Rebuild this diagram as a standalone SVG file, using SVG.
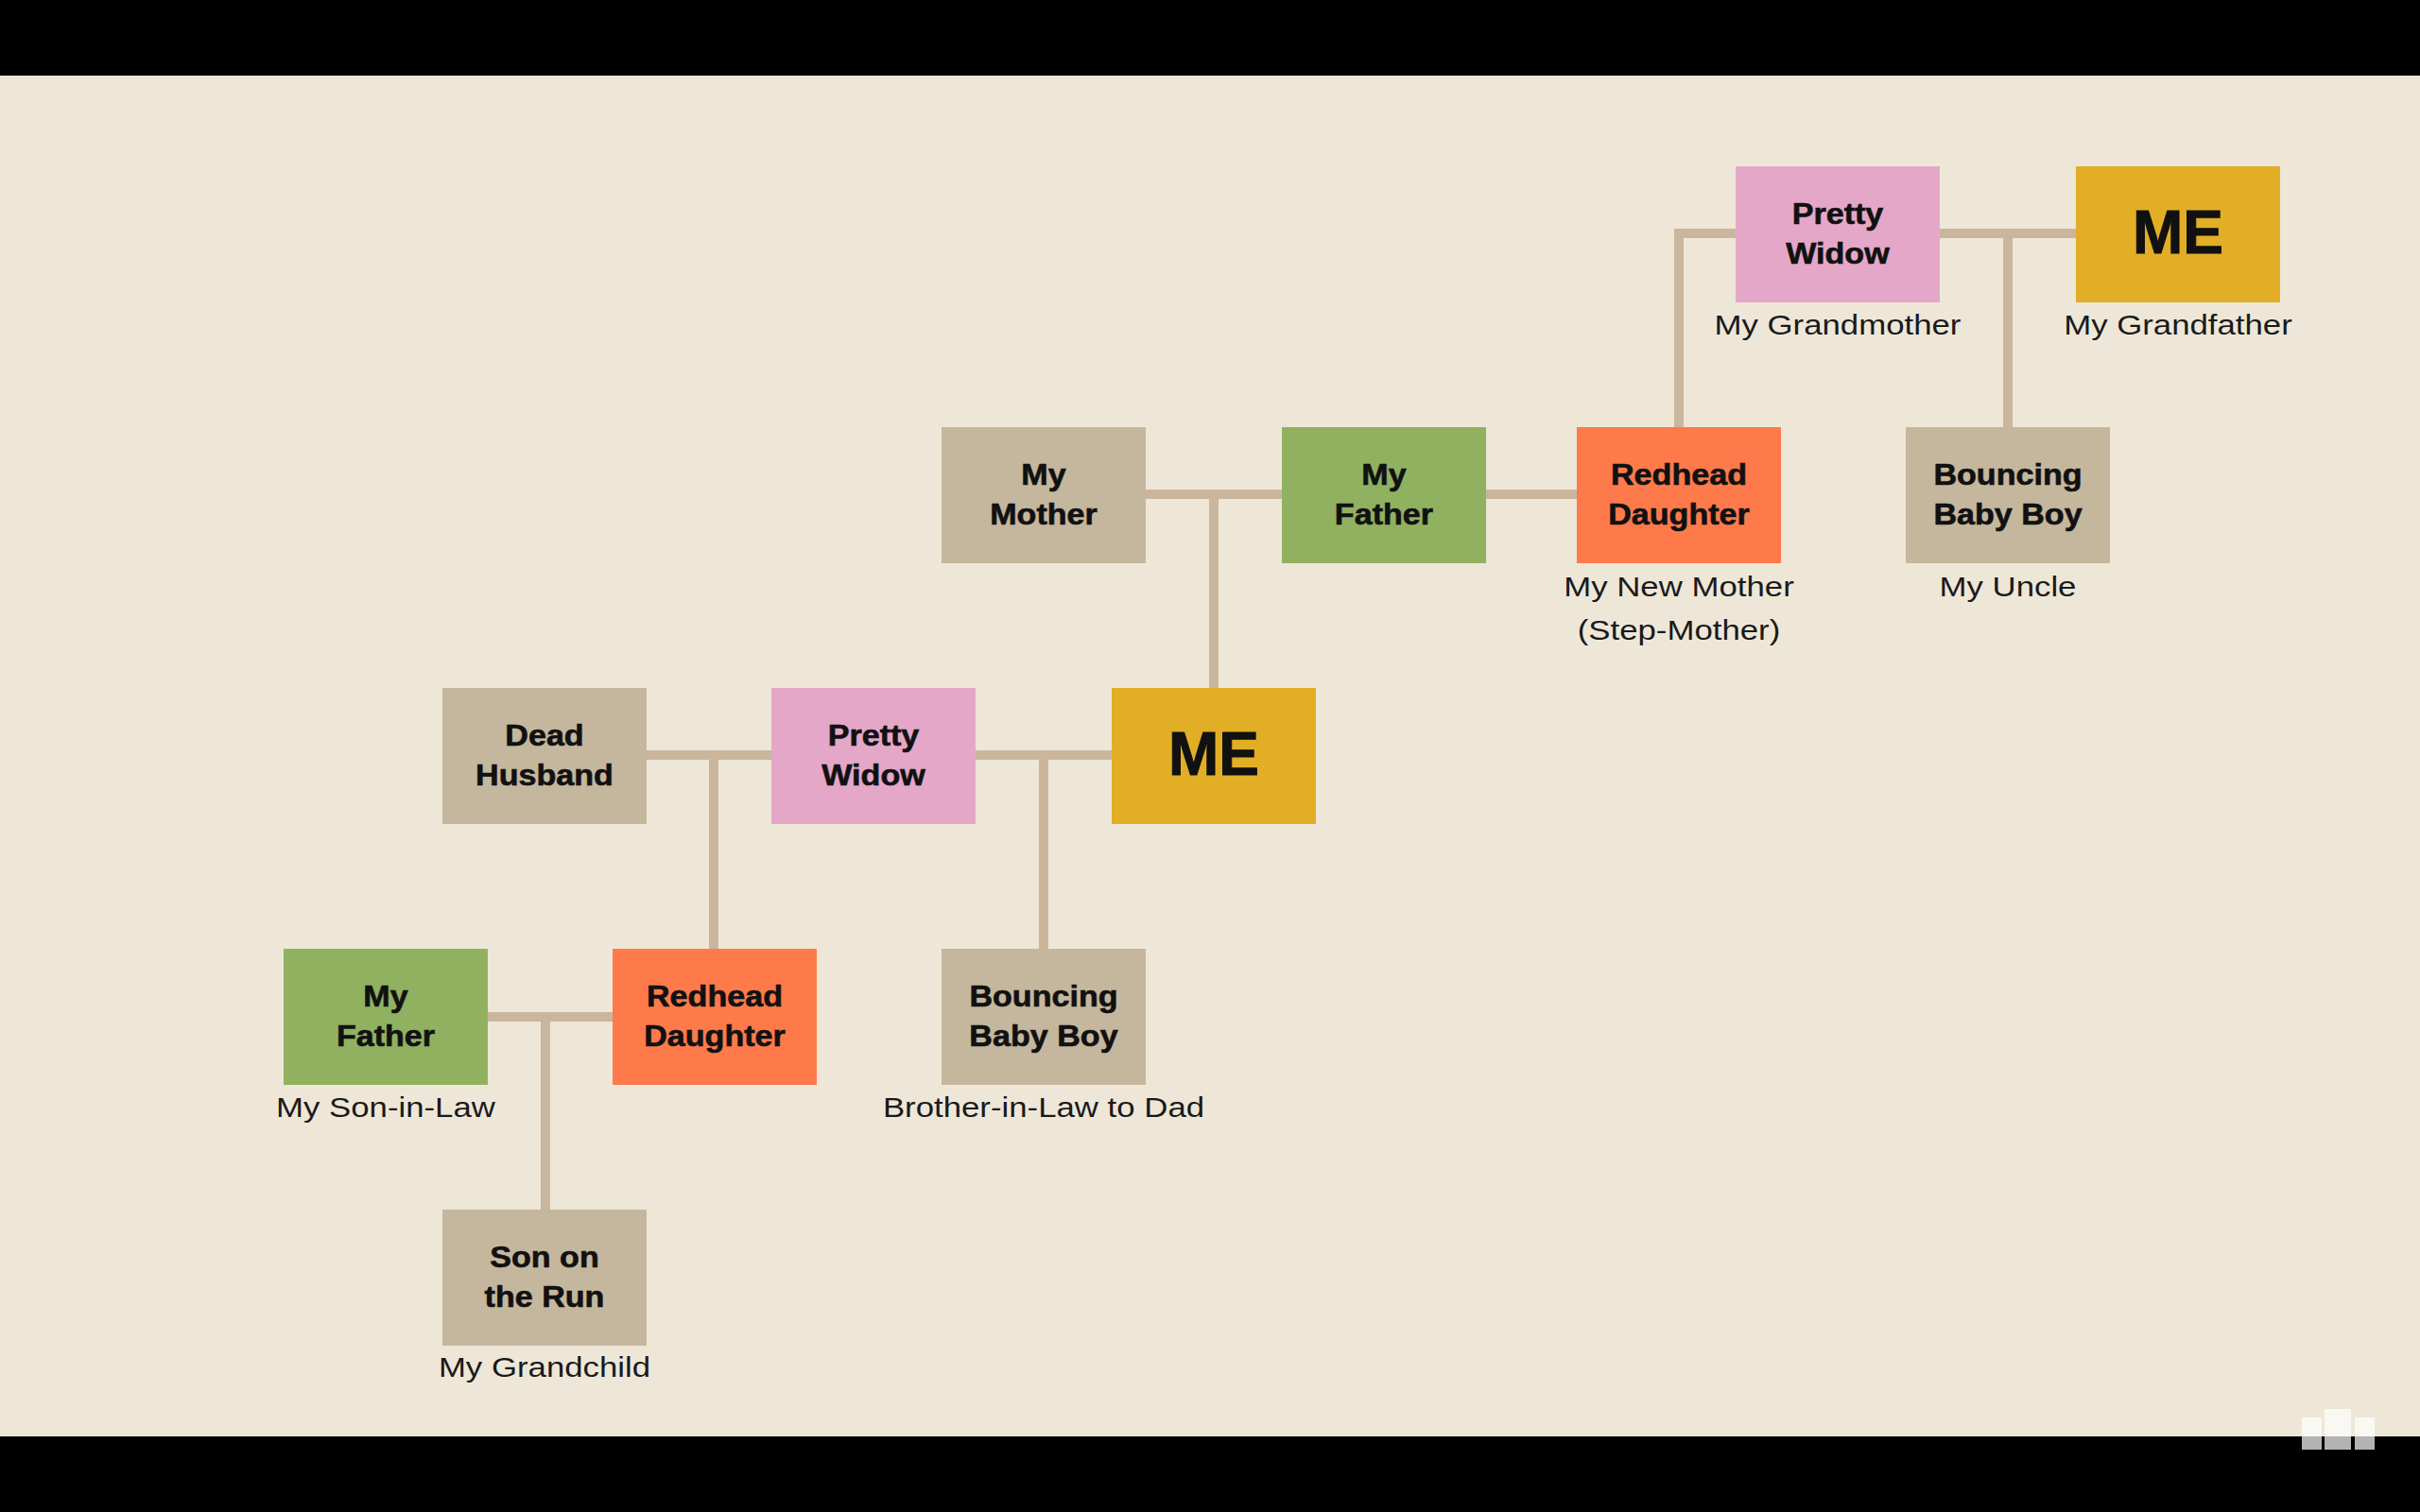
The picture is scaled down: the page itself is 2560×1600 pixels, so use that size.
<svg xmlns="http://www.w3.org/2000/svg" width="2560" height="1600" viewBox="0 0 2560 1600">
<style>
.bg{fill:#eee7d8}
.bar{fill:#000}
.tan{fill:#c5b79d}
.pink{fill:#e5a7c8}
.gold{fill:#e2ae25}
.green{fill:#90b160}
.orange{fill:#fe7a4b}
.t{font-family:"Liberation Sans",Arial,sans-serif;font-weight:bold;font-size:31px;fill:#111;stroke:#111;stroke-width:0.6;text-anchor:middle;transform-box:fill-box;transform-origin:center;transform:scaleX(1.1)}
.me{font-family:"Liberation Sans",Arial,sans-serif;font-weight:bold;font-size:64px;fill:#111;stroke:#111;stroke-width:1;text-anchor:middle}
.l{font-family:"Liberation Sans",Arial,sans-serif;font-size:30px;fill:#1a1a1a;text-anchor:middle;transform-box:fill-box;transform-origin:center;transform:scaleX(1.16)}
.c{fill:none;stroke:#cab69c;stroke-width:10;stroke-linecap:butt;stroke-linejoin:miter}
.logo{fill:#fff;fill-opacity:0.7}
</style>
<rect class="bg" x="0" y="0" width="2560" height="1600"/>
<rect class="bar" x="0" y="0" width="2560" height="80"/>
<rect class="bar" x="0" y="1520" width="2560" height="80"/>

<g id="connectors">
  <path class="c" d="M1776,452 V247 H1836"/>
  <path class="c" d="M2052,247 H2196"/>
  <path class="c" d="M2124,247 V453"/>
  <path class="c" d="M1212,523 H1356"/>
  <path class="c" d="M1284,523 V728"/>
  <path class="c" d="M1572,523 H1668"/>
  <path class="c" d="M684,799 H816"/>
  <path class="c" d="M755,799 V1004"/>
  <path class="c" d="M1032,799 H1176"/>
  <path class="c" d="M1104,799 V1004"/>
  <path class="c" d="M516,1076 H648"/>
  <path class="c" d="M577,1076 V1280"/>
</g>

<g id="grandmother">
  <rect class="pink" x="1836" y="176" width="216" height="144"/>
  <text class="t" x="1944" y="237">Pretty</text>
  <text class="t" x="1944" y="279">Widow</text>
  <text class="l" x="1944" y="354">My Grandmother</text>
</g>
<g id="grandfather">
  <rect class="gold" x="2196" y="176" width="216" height="144"/>
  <text class="me" x="2304" y="268">ME</text>
  <text class="l" x="2304" y="354">My Grandfather</text>
</g>
<g id="uncle">
  <rect class="tan" x="2016" y="452" width="216" height="144"/>
  <text class="t" x="2124" y="513">Bouncing</text>
  <text class="t" x="2124" y="555">Baby Boy</text>
  <text class="l" x="2124" y="631">My Uncle</text>
</g>
<g id="my-mother">
  <rect class="tan" x="996" y="452" width="216" height="144"/>
  <text class="t" x="1104" y="513">My</text>
  <text class="t" x="1104" y="555">Mother</text>
</g>
<g id="my-father">
  <rect class="green" x="1356" y="452" width="216" height="144"/>
  <text class="t" x="1464" y="513">My</text>
  <text class="t" x="1464" y="555">Father</text>
</g>
<g id="new-mother">
  <rect class="orange" x="1668" y="452" width="216" height="144"/>
  <text class="t" x="1776" y="513">Redhead</text>
  <text class="t" x="1776" y="555">Daughter</text>
  <text class="l" x="1776" y="631">My New Mother</text>
  <text class="l" x="1776" y="677">(Step-Mother)</text>
</g>
<g id="dead-husband">
  <rect class="tan" x="468" y="728" width="216" height="144"/>
  <text class="t" x="576" y="789">Dead</text>
  <text class="t" x="576" y="831">Husband</text>
</g>
<g id="pretty-widow">
  <rect class="pink" x="816" y="728" width="216" height="144"/>
  <text class="t" x="924" y="789">Pretty</text>
  <text class="t" x="924" y="831">Widow</text>
</g>
<g id="me">
  <rect class="gold" x="1176" y="728" width="216" height="144"/>
  <text class="me" x="1284" y="820">ME</text>
</g>
<g id="son-in-law">
  <rect class="green" x="300" y="1004" width="216" height="144"/>
  <text class="t" x="408" y="1065">My</text>
  <text class="t" x="408" y="1107">Father</text>
  <text class="l" x="408" y="1182">My Son-in-Law</text>
</g>
<g id="redhead-daughter">
  <rect class="orange" x="648" y="1004" width="216" height="144"/>
  <text class="t" x="756" y="1065">Redhead</text>
  <text class="t" x="756" y="1107">Daughter</text>
</g>
<g id="bouncing-baby-boy">
  <rect class="tan" x="996" y="1004" width="216" height="144"/>
  <text class="t" x="1104" y="1065">Bouncing</text>
  <text class="t" x="1104" y="1107">Baby Boy</text>
  <text class="l" x="1104" y="1182">Brother-in-Law to Dad</text>
</g>
<g id="son-on-the-run">
  <rect class="tan" x="468" y="1280" width="216" height="144"/>
  <text class="t" x="576" y="1341">Son on</text>
  <text class="t" x="576" y="1383">the Run</text>
  <text class="l" x="576" y="1457">My Grandchild</text>
</g>

<g id="logo">
  <rect class="logo" x="2435" y="1500" width="21" height="34"/>
  <rect class="logo" x="2459" y="1491" width="28" height="43"/>
  <rect class="logo" x="2491" y="1500" width="21" height="34"/>
</g>
</svg>
